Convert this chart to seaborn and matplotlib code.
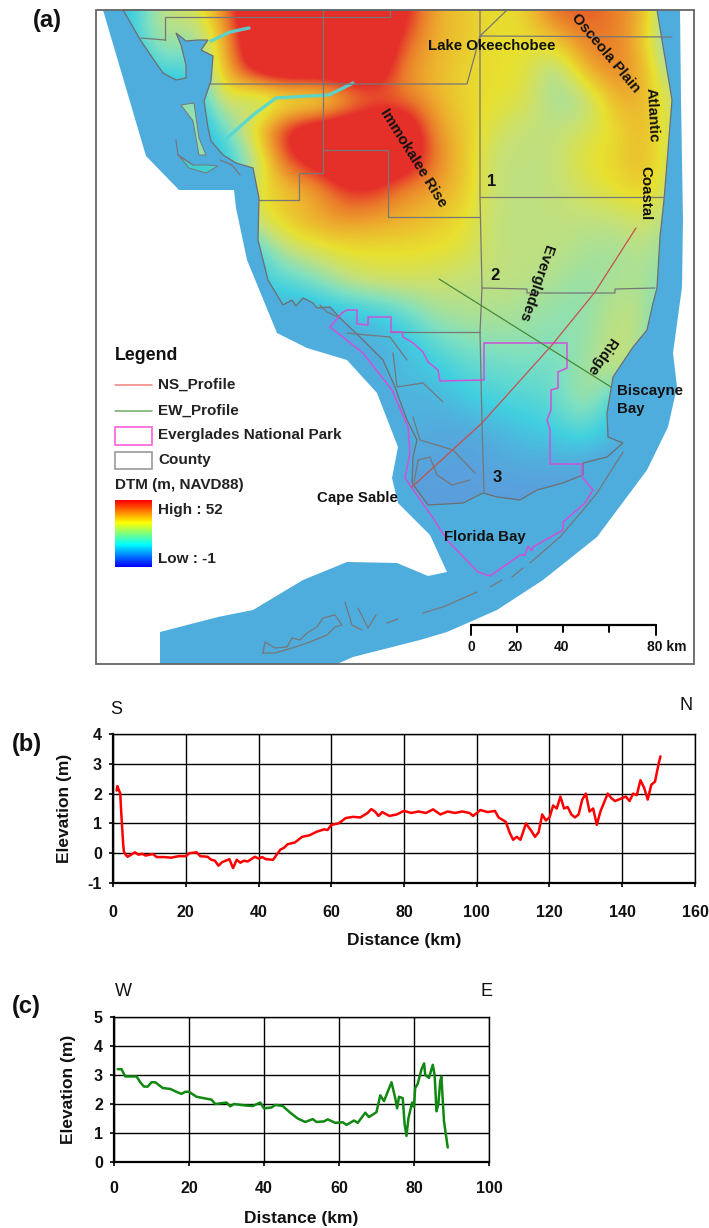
import numpy as np
import pandas as pd
import seaborn as sns
import matplotlib.pyplot as plt
from matplotlib.colors import LinearSegmentedColormap
from matplotlib.patches import Polygon, Rectangle

# profile (b) S-N
ns_km = [1, 1.2, 2, 2.2, 2.5, 2.8, 3, 3.5, 4, 5, 6, 7, 8, 9, 10, 11, 12, 14, 16, 18, 20, 21, 23, 24, 26, 27, 28, 29, 30, 31, 32, 33, 34, 35, 36, 37, 38, 39, 40, 41, 42, 44, 45, 46, 47, 48, 50, 52, 54, 56, 58, 59, 60, 62, 64, 66, 68, 70, 71, 72, 73, 74, 76, 78, 80, 82, 84, 86, 88, 90, 92, 94, 96, 98, 99, 101, 103, 105, 106, 108, 109, 110, 111, 112, 113, 113.5, 115, 116, 117, 118, 119, 120, 121, 122, 123, 124, 125, 126, 127, 128, 129, 130, 131, 132, 133, 134, 135, 136, 137, 138, 140, 141, 142, 143, 144, 145, 146, 147, 148, 149, 150, 150.5]
ns_elev = [2.1, 2.25, 2.0, 1.5, 0.9, 0.3, 0.05, -0.05, -0.12, -0.05, 0.03, -0.05, -0.02, -0.08, -0.05, -0.03, -0.13, -0.13, -0.15, -0.1, -0.1, 0, 0.03, -0.1, -0.12, -0.22, -0.25, -0.42, -0.3, -0.25, -0.2, -0.5, -0.22, -0.32, -0.25, -0.28, -0.2, -0.12, -0.18, -0.13, -0.2, -0.22, -0.05, 0.12, 0.18, 0.3, 0.36, 0.55, 0.6, 0.72, 0.8, 0.78, 0.95, 1.0, 1.18, 1.22, 1.2, 1.35, 1.48, 1.4, 1.25, 1.38, 1.25, 1.3, 1.42, 1.35, 1.4, 1.35, 1.47, 1.3, 1.4, 1.35, 1.4, 1.35, 1.25, 1.45, 1.38, 1.42, 1.2, 1.05, 0.7, 0.45, 0.55, 0.45, 0.8, 1.0, 0.75, 0.55, 0.7, 1.3, 1.1, 1.2, 1.6, 1.5, 1.9, 1.5, 1.55, 1.3, 1.2, 1.3, 1.8, 2.0, 1.4, 1.5, 0.95, 1.4, 1.7, 2.0, 1.85, 1.75, 1.85, 1.9, 1.75, 2.0, 1.95, 2.45, 2.2, 1.8, 2.3, 2.4, 3.0, 3.25]

# profile (c) W-E
ew_km = [1, 2, 3, 6, 7, 8, 9, 10, 11, 13, 15, 17, 18, 19, 20, 22, 24, 26, 27, 30, 31, 32, 35, 37, 39, 40, 42, 43, 45, 47, 49, 51, 53, 54, 56, 57, 59, 61, 62, 64, 65, 67, 68, 70, 71, 72, 74, 75, 75.5, 76, 77, 77.5, 78, 78.5, 79.5, 80, 80.3, 81, 82, 82.7, 83, 84, 85, 85.5, 86, 86.5, 87, 87.3, 88, 89]
ew_elev = [3.2, 3.2, 2.95, 2.95, 2.75, 2.6, 2.6, 2.75, 2.75, 2.55, 2.52, 2.4, 2.35, 2.42, 2.42, 2.25, 2.2, 2.15, 2.0, 2.05, 1.92, 2.0, 1.95, 1.93, 2.05, 1.85, 1.88, 1.97, 1.93, 1.7, 1.5, 1.38, 1.48, 1.38, 1.4, 1.47, 1.35, 1.37, 1.28, 1.43, 1.35, 1.7, 1.55, 1.72, 2.3, 2.1, 2.75, 2.2, 1.85, 2.25, 2.2, 1.3, 0.9, 1.5, 2.05, 1.9, 2.55, 2.7, 3.2, 3.4, 3.0, 2.9, 3.35, 3.0, 1.75, 2.0, 2.8, 2.95, 1.4, 0.5]

# DTM on a coarse 30 px grid, 0 blue .. 7 red (above 7 stays red)
dtm_rows = [
    [0, 1, 3.3, 3.3, 6, 9, 9, 9, 9, 9, 7.5, 5, 4.5, 4, 4.2, 6.5, 6.5, 6, 5, 1],
    [0, 1, 3, 2, 5, 9, 9, 9, 9, 9, 6.5, 5, 4.5, 4, 4, 4.5, 6, 6, 4.5, 1],
    [0, 0, 1.5, 1, 5, 8, 9, 9, 9, 8.5, 5.5, 4.8, 4.2, 4, 4, 2.2, 5, 6, 5, 2],
    [0, 0, 0, 0, 4, 2, 3, 2.5, 4.5, 6, 6, 5, 4.2, 4, 3.7, 2.5, 2.5, 5, 5, 3],
    [0, 0, 0, 0, 1.5, 4.5, 7.5, 9, 9, 9, 9, 5.5, 4.5, 3.5, 3, 3, 3.5, 4, 5, 3],
    [0, 0, 0, 0, 0.5, 2.5, 6.5, 8, 9, 9, 8.5, 6, 4.5, 3, 3, 3, 4, 4.2, 5, 3],
    [0, 0, 0, 0, 0.5, 4, 4.5, 5, 7, 7, 5.5, 5.3, 4.5, 3, 3, 3, 3.5, 4, 4.5, 3],
    [0, 0, 0, 0, 1, 3.5, 4.5, 5.2, 5.5, 5.2, 5, 4.5, 4, 3, 3, 3, 3, 3, 3.5, 2.5],
    [0, 0, 0, 0, 0, 1, 3, 3.5, 4, 4, 4, 4, 3.8, 3, 3, 3, 2.7, 2.5, 3, 2],
    [0, 0, 0, 0, 0, 1, 1.3, 2, 3, 3.5, 3.5, 3.3, 3, 3, 3, 2.7, 2.3, 2.7, 2.7, 2],
    [0, 0, 0, 0, 0, 0.5, 0.3, 0.3, 0.7, 1, 1.7, 2.7, 2.8, 2.8, 2.6, 2.3, 2.2, 3, 3, 0.5],
    [0, 0, 0, 0, 0, 0, 0, 0, 0.3, 0.3, 0.6, 1.6, 2.1, 2.3, 2.3, 2.1, 2.3, 3.2, 2.8, 0],
    [0, 0, 0, 0, 0, 0, 0, 0, 0.3, 0.4, 0.6, 0.8, 1.4, 1.6, 1.8, 1.8, 2.5, 3.3, 2.4, 0],
    [0, 0, 0, 0, 0, 0, 0, 0, 0, 0.5, 0.4, 0.4, 0.8, 1.2, 1.3, 1.5, 2.8, 1, 0, 0],
    [0, 0, 0, 0, 0, 0, 0, 0, 0, 0, 0.5, 0.2, 0.2, 0.4, 0.8, 1.0, 1.5, 0.5, 0, 0],
    [0, 0, 0, 0, 0, 0, 0, 0, 0, 0, 0, 0.2, 0, 0.2, 0.3, 0.3, 0.3, 0, 0, 0],
    [0, 0, 0, 0, 0, 0, 0, 0, 0, 0, 0, 0, 0, 0, 0, 0, 0, 0, 0, 0],
]

dtm_colors = ['#5a9fdc', '#40d0e0', '#80e0c0', '#c0e080', '#e8e030', '#edb02e', '#ea7a2a', '#e5302a']
legend_colors = ['#0000ff', '#00ffff', '#ffff00', '#ff0000']

# map outlines, in picture pixels
water_xy = [(103, 10), (680, 10), (681, 100), (683, 220), (682, 287), (673, 353), (677, 387), (668, 427), (647, 470), (597, 537), (543, 580), (497, 610), (447, 632), (420, 640), (353, 657), (337, 664), (160, 664), (160, 632), (218, 617), (253, 610), (303, 580), (347, 562), (397, 563), (428, 576), (447, 572), (430, 535), (398, 503), (392, 478), (398, 447), (377, 393), (347, 360), (307, 348), (277, 333), (247, 260), (236, 208), (234, 190), (179, 190), (146, 156)]
land_xy = [(123, 10), (141, 41), (158, 66), (163, 73), (176, 80), (186, 78), (186, 65), (181, 45), (176, 33), (186, 41), (198, 40), (208, 40), (201, 50), (213, 56), (211, 81), (204, 101), (208, 128), (211, 141), (223, 155), (236, 163), (253, 168), (259, 198), (258, 240), (268, 280), (280, 300), (283, 305), (292, 300), (296, 306), (303, 298), (313, 303), (317, 308), (330, 307), (340, 318), (360, 337), (383, 360), (395, 387), (407, 420), (417, 440), (413, 457), (412, 483), (428, 505), (463, 503), (483, 493), (497, 497), (520, 500), (537, 490), (563, 483), (583, 475), (583, 463), (607, 457), (623, 443), (608, 437), (607, 413), (613, 377), (633, 347), (647, 330), (653, 303), (657, 288), (660, 237), (664, 200), (672, 100), (657, 10)]
pine_island_xy = [(181, 105), (194, 103), (199, 138), (206, 155), (199, 155), (193, 121)]
sanibel_xy = [(179, 156), (193, 165), (209, 165), (218, 166), (206, 173), (189, 168)]
rivers = [[(211, 41), (230, 32), (249, 28)], [(225, 140), (253, 115), (276, 98), (309, 96), (329, 95), (353, 83)]]
park_xy = [(330, 327), (342, 313), (347, 310), (357, 310), (357, 324), (368, 325), (368, 317), (391, 317), (391, 332), (402, 332), (403, 337), (413, 343), (423, 352), (428, 362), (438, 370), (440, 381), (484, 380), (484, 343), (567, 343), (567, 368), (558, 372), (558, 388), (551, 390), (551, 410), (547, 420), (550, 430), (550, 464), (582, 464), (582, 477), (593, 490), (585, 503), (563, 522), (563, 530), (533, 547), (532, 551), (528, 546), (525, 555), (520, 555), (490, 576), (478, 572), (447, 540), (433, 518), (405, 478), (410, 453), (408, 427), (392, 390), (363, 353)]
county_lines = [
    [(480, 10), (480, 197), (482, 288), (480, 332), (482, 423), (484, 492)],
    [(480, 197), (664, 197)],
    [(507, 10), (480, 36), (672, 37)],
    [(480, 36), (467, 84), (209, 84)],
    [(323, 10), (323, 173), (299, 173), (299, 200), (258, 200)],
    [(323, 150), (388, 150), (388, 217), (480, 217)],
    [(165, 40), (165, 17), (390, 17), (390, 10)],
    [(165, 40), (141, 38)],
    [(482, 288), (527, 289), (527, 293), (615, 293), (615, 289), (655, 288)],
    [(390, 332), (480, 332)],
]
keys_lines = [
    [(423, 613), (443, 607), (477, 592)], [(490, 587), (502, 580)], [(512, 577), (523, 568)],
    [(530, 563), (560, 537), (583, 510), (597, 493), (623, 452)],
    [(263, 653), (265, 642), (275, 648), (287, 647), (292, 638), (300, 640), (307, 633), (317, 627), (323, 618), (335, 615), (342, 625), (335, 627), (327, 635), (310, 642), (292, 648), (275, 653), (263, 653)],
    [(345, 602), (352, 625), (362, 630)], [(358, 608), (368, 628), (376, 615)], [(387, 623), (398, 619)],
    [(347, 333), (367, 335), (390, 337), (407, 360)], [(393, 353), (397, 387), (423, 383), (443, 402)],
    [(413, 417), (420, 440), (453, 450), (475, 473)], [(414, 483), (418, 460), (430, 457), (437, 475), (452, 485), (470, 480)],
    [(176, 140), (178, 155), (193, 165)],
    [(220, 160), (232, 165), (240, 175)], [(320, 305), (327, 312), (340, 318)],
]
ns_line = [(636, 228), (595, 292), (552, 345), (482, 423), (412, 487)]
ew_line = [(439, 279), (611, 387)]

map_labels = [
    ('Lake Okeechobee', 492, 46, 0), ('Osceola Plain', 606, 53, -50), ('Atlantic', 652, 115, -87),
    ('Coastal', 645, 193, -90), ('Immokalee Rise', 413, 158, -58), ('Everglades', 536, 283, -109),
    ('Ridge', 601, 356, -124), ('Cape Sable', 357, 498, 0), ('Florida Bay', 485, 537, 0),
]
scale_ticks = [471, 517, 563, 609, 656]

sns.set_theme(style='white')
plt.rcParams['font.family'] = ['Liberation Sans', 'DejaVu Sans']
plt.rcParams['font.weight'] = 'bold'
plt.rcParams['axes.unicode_minus'] = False
W, H = 709, 1228
fig = plt.figure(figsize=(W / 100, H / 100), dpi=100)

ax = fig.add_axes([0, 0, 1, 1])
ax.set_xlim(0, W)
ax.set_ylim(H, 0)
ax.axis('off')

ax.add_patch(Polygon(water_xy, closed=True, fc='#4fadde', ec='none'))
cmap = LinearSegmentedColormap.from_list('dtm', dtm_colors)
nrow = len(dtm_rows)
im = ax.imshow(np.array(dtm_rows), cmap=cmap, vmin=0, vmax=7, aspect='auto', interpolation='bicubic',
               extent=(90, 690, -5 + 30 * nrow, -5), zorder=1)
im.set_clip_path(Polygon(land_xy, closed=True, transform=ax.transData))
ax.set_xlim(0, W)
ax.set_ylim(H, 0)

for river in rivers:
    ax.plot(*zip(*river), color='#50d8d8', lw=2.4, alpha=0.9, zorder=1.5)
ax.add_patch(Polygon(pine_island_xy, closed=True, fc='#90e0b0', ec='#777777', lw=0.7, zorder=2))
ax.add_patch(Polygon(sanibel_xy, closed=True, fc='#40d0d0', ec='#777777', lw=0.7, zorder=2))
ax.add_patch(Polygon(land_xy, closed=True, fc='none', ec='#6e6e6e', lw=0.9, zorder=2))
for line in county_lines + keys_lines:
    ax.plot(*zip(*line), color='#777777', lw=0.9, zorder=3)
ax.add_patch(Polygon(park_xy, closed=True, fc='none', ec='#d050d8', lw=1.1, zorder=4))
ax.plot(*zip(*ns_line), color='#c8504e', lw=0.9, zorder=5)
ax.plot(*zip(*ew_line), color='#4a8a3a', lw=0.9, zorder=5)
ax.add_patch(Rectangle((96, 10), 598, 654, fc='none', ec='#666666', lw=1.3, zorder=6))

for txt, x, y, rot in map_labels:
    ax.text(x, y, txt, ha='center', va='center', rotation=rot, rotation_mode='anchor', fontsize=10.8,
            color='#111111', zorder=7)
for txt, x, y in [('1', 492, 181), ('2', 495, 276), ('3', 497, 478)]:
    ax.text(x, y, txt, ha='center', va='center', fontsize=12, color='#111111', zorder=7)
ax.text(617, 391, 'Biscayne', va='center', fontsize=10.8, color='#111111', zorder=7)
ax.text(617, 409, 'Bay', va='center', fontsize=10.8, color='#111111', zorder=7)

# legend
ax.text(115, 355, 'Legend', va='center', fontsize=12.8, color='#111111')
ax.plot([115, 152], [385, 385], color='#f08080', lw=1.1)
ax.plot([115, 152], [411, 411], color='#70a860', lw=1.1)
ax.add_patch(Rectangle((115, 427), 37, 18, fc='white', ec='#ff60d8', lw=1.2))
ax.add_patch(Rectangle((115, 452), 37, 17, fc='white', ec='#999999', lw=1.2))
for txt, y in [('NS_Profile', 385), ('EW_Profile', 411), ('Everglades National Park', 435), ('County', 460),
               ('High : 52', 510), ('Low : -1', 559)]:
    ax.text(158, y, txt, va='center', fontsize=11, color='#222222')
ax.text(115, 485, 'DTM (m, NAVD88)', va='center', fontsize=11, color='#222222')
ax.imshow(np.linspace(1, 0, 60).reshape(-1, 1), cmap=LinearSegmentedColormap.from_list('leg', legend_colors),
          aspect='auto', extent=(115, 152, 567, 500), zorder=2)
ax.set_xlim(0, W)
ax.set_ylim(H, 0)

# scale bar
ax.plot([scale_ticks[0], scale_ticks[-1]], [625, 625], color='black', lw=1.6, zorder=7)
for t in scale_ticks:
    ax.plot([t, t], [625, 635 if t in (471, 656) else 632], color='black', lw=1.4, zorder=7)
for txt, x in [('0', 471), ('20', 515), ('40', 562)]:
    ax.text(x, 647, txt, ha='center', va='center', fontsize=10, color='#111111')
ax.text(647, 647, '80 km', ha='left', va='center', fontsize=10, color='#111111')

for txt, x, y in [('(a)', 47, 20), ('(b)', 27, 745), ('(c)', 26, 1007)]:
    ax.text(x, y, txt, ha='center', va='center', fontsize=17, color='#111111')
for txt, x, y in [('S', 116, 710), ('N', 686, 706), ('W', 123, 992), ('E', 486, 992)]:
    ax.text(x, y, txt, ha='center', va='center', fontsize=13, fontweight='normal', color='#111111')


def profile_axes(x0, x1, y0, y1):
    a = fig.add_axes([x0 / W, 1 - y1 / H, (x1 - x0) / W, (y1 - y0) / H])
    return a


def style_profile(a, xlim, ylim, xt, yt, ylab_x, xlab_y, xpad):
    a.set_xlim(*xlim)
    a.set_ylim(*ylim)
    a.set_xticks(xt)
    a.set_yticks(yt)
    a.grid(True, color='black', lw=1.0)
    a.set_axisbelow(True)
    a.tick_params(length=3, width=1.2, color='black', labelsize=11.5, left=True, bottom=True, labelcolor='#111111')
    a.tick_params(axis='x', pad=xpad)
    a.tick_params(axis='y', pad=5)
    for s in a.spines.values():
        s.set_color('black')
        s.set_linewidth(1.0)
    a.spines['left'].set_linewidth(1.6)
    a.spines['bottom'].set_linewidth(1.6)
    a.set_xlabel('Distance (km)', fontsize=12.5, color='#111111', fontweight='bold')
    a.set_ylabel('Elevation (m)', fontsize=12.5, color='#111111', fontweight='bold')
    a.xaxis.set_label_coords(*xlab_y)
    a.yaxis.set_label_coords(*ylab_x)


ax_b = profile_axes(113, 695, 734, 883)
sns.lineplot(data=pd.DataFrame({'km': ns_km, 'm': ns_elev}), x='km', y='m', color='#ff0000', lw=1.8,
             estimator=None, ax=ax_b, zorder=5)
style_profile(ax_b, (0, 160), (-1, 4), range(0, 161, 20), range(-1, 5), (-0.07, 0.5), (0.5, -0.335), 13)

ax_c = profile_axes(114, 489, 1017, 1162)
sns.lineplot(data=pd.DataFrame({'km': ew_km, 'm': ew_elev}), x='km', y='m', color='#118811', lw=1.8,
             estimator=None, ax=ax_c, zorder=5)
style_profile(ax_c, (0, 100), (0, 5), range(0, 101, 20), range(0, 6), (-0.10, 0.5), (0.5, -0.338), 11)

fig.savefig('out.png', dpi=100)
